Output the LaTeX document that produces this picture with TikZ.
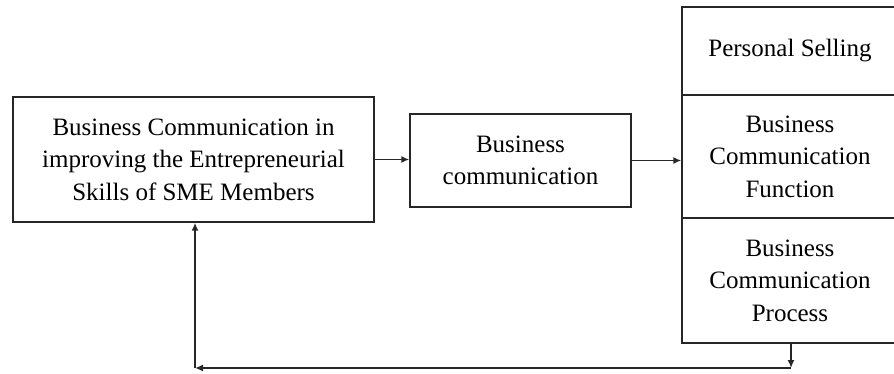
\documentclass[tikz,border=0pt]{standalone}
\usepackage{fontspec}
\setmainfont{Liberation Serif}
\usetikzlibrary{positioning,calc,arrows.meta}

\tikzset{
  blockbox/.style={draw=black!85, line width=1.4pt, inner sep=0pt, align=center,
    font=\fontsize{25}{32.5}\selectfont},
  flow/.style={-{Latex[length=8pt,width=7pt]}, line width=1.7pt, draw=black!85}
}

\begin{document}
\begin{tikzpicture}[x=1pt, y=-1pt]
        \useasboundingbox (0,0) rectangle (894,374);

        % Main topic
        \node[blockbox, minimum width=361pt, minimum height=125pt] (sme) at (193.5,159.5)
            {Business Communication in\\improving the Entrepreneurial\\Skills of SME Members};

        % Central concept
        \node[blockbox, minimum width=221pt, minimum height=93pt] (buscom) at (520.5,160.5)
            {Business\\communication};

        % Right column: three aspects
        \node[blockbox, minimum width=216pt, minimum height=88pt] (selling) at (790,51)
            {Personal Selling};
        \node[blockbox, minimum width=216pt, minimum height=123pt] (function) at (790,156.5)
            {Business\\Communication\\Function};
        \node[blockbox, minimum width=216pt, minimum height=125pt] (process) at (790,280.5)
            {Business\\Communication\\Process};

        % Forward arrows
        \draw[flow] (sme.east) -- (sme.east -| buscom.west);
        \draw[flow] (buscom.east) -- (buscom.east -| function.west);

        % Feedback loop
        \coordinate (turnR) at (791,368);
        \coordinate (turnL) at (195,368);
        \draw[flow] (process.south -| turnR) -- (turnR);
        \draw[flow] (turnR) -- (turnL);
        \draw[flow] (turnL) -- (turnL |- sme.south);
    \end{tikzpicture}
\end{document}
